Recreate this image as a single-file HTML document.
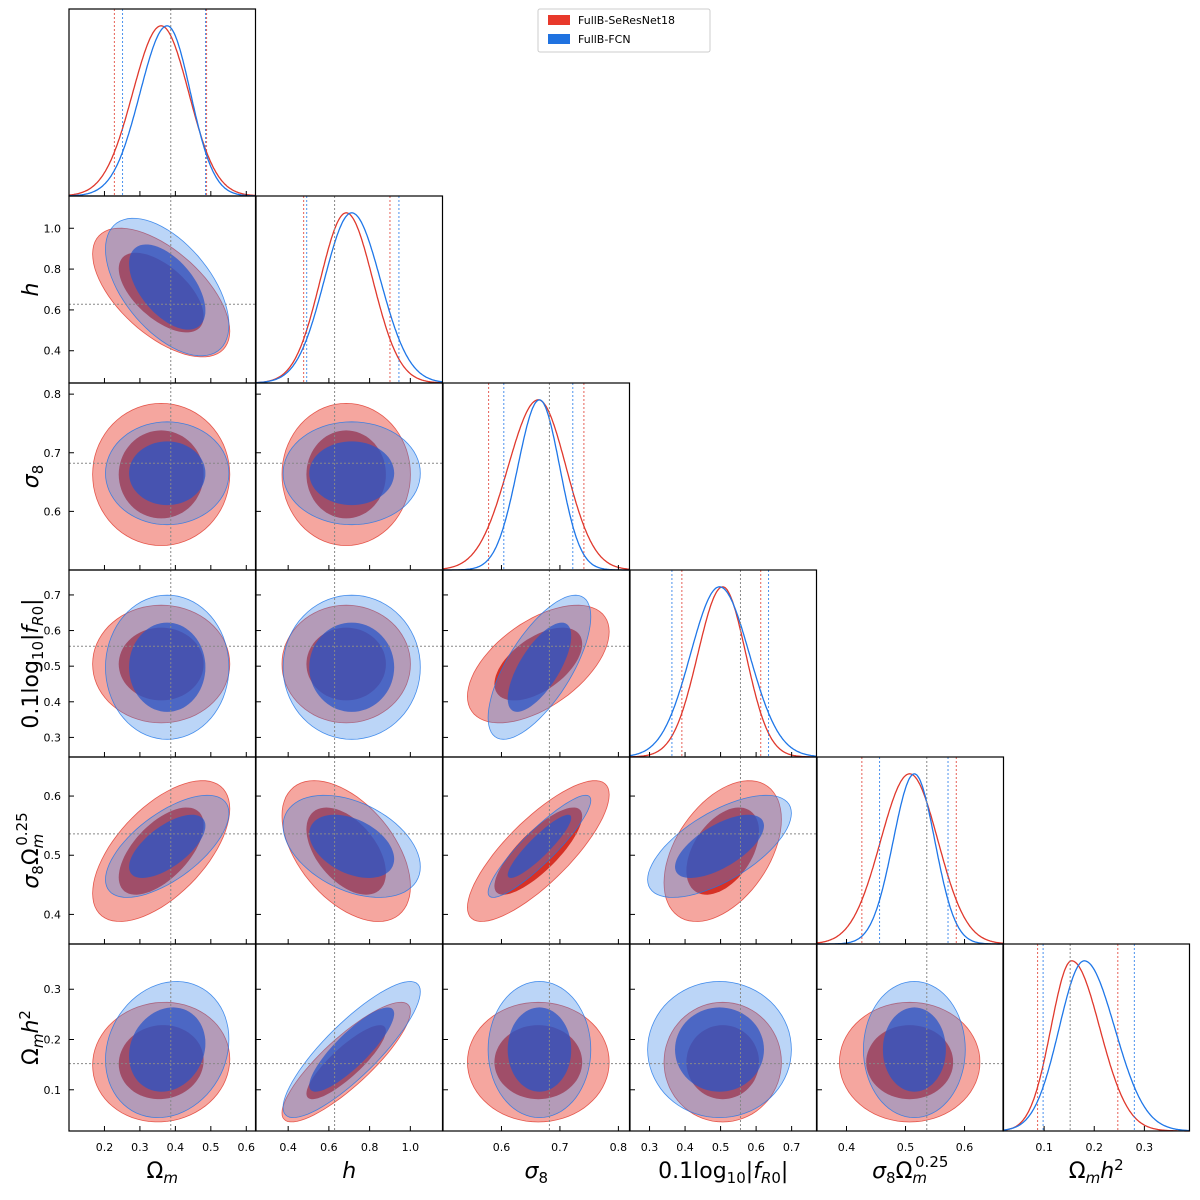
<!DOCTYPE html>
<html><head><meta charset="utf-8"><style>
body{margin:0;background:#fff}
svg{display:block;font-family:"DejaVu Sans","Liberation Sans",sans-serif}
</style></head><body>
<svg id="c" width="1200" height="1200" viewBox="0 0 1200 1200" xmlns="http://www.w3.org/2000/svg">
<g>
<rect x="538" y="9" width="172" height="43" fill="#fff" stroke="#ccc" rx="2"/>
<rect x="548" y="15" width="22" height="10" fill="#e8392b"/>
<text x="578" y="24" font-size="11">FullB-SeResNet18</text>
<rect x="548" y="34" width="22" height="10" fill="#1f72e0"/>
<text x="578" y="43" font-size="11">FullB-FCN</text>
</g>
</svg>
<script>
const paramLo=[0.10,0.242,0.50,0.245,0.35,0.018];
const paramHi=[0.626,1.158,0.819,0.770,0.666,0.39];
const truth=[0.387,0.628,0.682,0.556,0.536,0.152];
const ticks=[[0.2,0.3,0.4,0.5,0.6],[0.4,0.6,0.8,1.0],[0.6,0.7,0.8],[0.3,0.4,0.5,0.6,0.7],[0.4,0.5,0.6],[0.1,0.2,0.3]];
const tickLabels=[["0.2","0.3","0.4","0.5","0.6"],["0.4","0.6","0.8","1.0"],["0.6","0.7","0.8"],["0.3","0.4","0.5","0.6","0.7"],["0.4","0.5","0.6"],["0.1","0.2","0.3"]];
const redPeak=[0.36,0.685,0.663,0.506,0.507,0.155];
const redLo=[0.228,0.476,0.578,0.391,0.426,0.087];
const redHi=[0.488,0.90,0.741,0.613,0.586,0.247];
const bluePeak=[0.377,0.712,0.665,0.497,0.515,0.18];
const blueLo=[0.251,0.491,0.604,0.363,0.456,0.098];
const blueHi=[0.485,0.944,0.722,0.635,0.572,0.28];
// pairs (row,col)
const pairs=[[1,0],[2,0],[2,1],[3,0],[3,1],[3,2],[4,0],[4,1],[4,2],[4,3],[5,0],[5,1],[5,2],[5,3],[5,4]];
const redRho=[-0.6,0,0,0,0,0.55,0.6,-0.5,0.8,0.45,0.05,0.85,0,0,0];
const blueRho=[-0.55,0,0,0,0,0.7,0.65,-0.4,0.9,0.65,0.15,0.85,0,0,0];

const NS='http://www.w3.org/2000/svg';
const svg=document.getElementById('c');
const colL=[69,256,443,630,817,1003], rowT=[9,196,383,570,757,944], W=186.5, H=187;
function sx(p,v){return colL[p]+(v-paramLo[p])/(paramHi[p]-paramLo[p])*W;}
function sy(p,v){return rowT[p]+H-(v-paramLo[p])/(paramHi[p]-paramLo[p])*H;}
function mk(tag,attrs,parent){const e=document.createElementNS(NS,tag);for(const k in attrs)e.setAttribute(k,attrs[k]);(parent||svg).appendChild(e);return e;}
const series=[{peak:redPeak,lo:redLo,hi:redHi,rho:redRho,line:'#e0392d',fill:'#e8392b',inner:'#d42a20',name:'seresnet'},
{peak:bluePeak,lo:blueLo,hi:blueHi,rho:blueRho,line:'#1f77e8',fill:'#3b86e8',inner:'#2a55c8',name:'fcn'}];
const sdOf=(s,p)=>((s.hi[p]-s.lo[p])/2)/1.645;
const names=['omega-m','h','sigma8','fr0','s8om','omh2'];

// 2D panels
pairs.forEach(([r,c],k)=>{
  const g=mk('g',{});
  
  
  const cid='clip'+k;
  const cp=mk('clipPath',{id:cid},g);mk('rect',{x:colL[c],y:rowT[r],width:W,height:H},cp);
  const gg=mk('g',{'clip-path':'url(#'+cid+')'},g);
  const layers=[];
  series.forEach(s=>{
    const mx=s.peak[c], my=s.peak[r], ax=sdOf(s,c), ay=sdOf(s,r), rho=s.rho[k];
    [2.448,1.515].forEach((rad,li)=>{
      let d='';
      for(let t=0;t<=72;t++){const a=t/72*2*Math.PI;
        const vx=mx+rad*ax*Math.cos(a), vy=my+rad*ay*(rho*Math.cos(a)+Math.sqrt(1-rho*rho)*Math.sin(a));
        d+=(t?'L':'M')+sx(c,vx).toFixed(1)+','+sy(r,vy).toFixed(1);}
      d+='Z';
      const isBlue=s.name==='fcn';
      const e=mk('path',{d:d,fill:li?s.inner:s.fill,'fill-opacity':li?(isBlue?0.75:0.95):(isBlue?0.35:0.45),stroke:li?'none':s.line,'stroke-width':0.8,'stroke-opacity':0.8},gg);
      
      
    });
  });
  const v=mk('line',{x1:sx(c,truth[c]),x2:sx(c,truth[c]),y1:rowT[r],y2:rowT[r]+H,stroke:'#888','stroke-width':1,'stroke-dasharray':'2,2'},gg);
  
  
  const hl=mk('line',{x1:colL[c],x2:colL[c]+W,y1:sy(r,truth[r]),y2:sy(r,truth[r]),stroke:'#888','stroke-width':1,'stroke-dasharray':'2,2'},gg);
  
  
});

// 1D panels
for(let p=0;p<6;p++){
  const g=mk('g',{});
  
  
  const base=rowT[p]+H, top=H*0.91;
  series.forEach(s=>{
    const sl=(s.peak[p]-s.lo[p])/1.645, sr=(s.hi[p]-s.peak[p])/1.645;
    let d='';
    for(let t=0;t<=200;t++){const v=paramLo[p]+(paramHi[p]-paramLo[p])*t/200;
      const sd=v<s.peak[p]?sl:sr; const z=(v-s.peak[p])/sd;
      d+=(t?'L':'M')+sx(p,v).toFixed(1)+','+(base-top*Math.exp(-0.5*z*z)).toFixed(1);}
    const e=mk('path',{d:d,fill:'none',stroke:s.line,'stroke-width':1.3},g);
    
    
    [s.lo[p],s.hi[p]].forEach(v=>{
      const l=mk('line',{x1:sx(p,v),x2:sx(p,v),y1:rowT[p],y2:base,stroke:s.line,'stroke-width':1,'stroke-dasharray':'2,2','stroke-opacity':0.8},g);
      
      
    });
  });
  const tl=mk('line',{x1:sx(p,truth[p]),x2:sx(p,truth[p]),y1:rowT[p],y2:base,stroke:'#888','stroke-width':1,'stroke-dasharray':'2,2'},g);
  
  
}

// frames & ticks
for(let r=0;r<6;r++)for(let c=0;c<=r;c++){
  const f=mk('rect',{x:colL[c],y:rowT[r],width:W,height:H,fill:'none',stroke:'#000','stroke-width':1.2});
  
  
  const b=rowT[r]+H;
  ticks[c].forEach((v,i)=>{const x=sx(c,v);mk('line',{x1:x,x2:x,y1:b,y2:b-5,stroke:'#000','stroke-width':1});
    if(r===5){const t=mk('text',{x:x,y:b+20,'font-size':11,'text-anchor':'middle'});t.textContent=tickLabels[c][i];
      }});
  if(r!==c){ticks[r].forEach((v,i)=>{const y=sy(r,v);mk('line',{x1:colL[c],x2:colL[c]+5,y1:y,y2:y,stroke:'#000','stroke-width':1});
    if(c===0){const t=mk('text',{x:colL[0]-8,y:y+4,'font-size':11,'text-anchor':'end'});t.textContent=tickLabels[r][i];
      }});}
}
// axis titles
const titles=['Ω<tspan font-style="italic" font-size="15" dy="5">m</tspan>',
'<tspan font-style="italic">h</tspan>',
'<tspan font-style="italic">σ</tspan><tspan font-size="15" dy="5">8</tspan>',
'0.1log<tspan font-size="15" dy="5">10</tspan><tspan dy="-5">|</tspan><tspan font-style="italic">f</tspan><tspan font-style="italic" font-size="15" dy="5">R</tspan><tspan font-size="15">0</tspan><tspan dy="-5">|</tspan>',
'<tspan font-style="italic">σ</tspan><tspan font-size="15" dy="5">8</tspan><tspan dy="-5">Ω</tspan><tspan font-style="italic" font-size="15" dy="5">m</tspan><tspan font-size="15" dx="-12" dy="-16">0.25</tspan>',
'Ω<tspan font-style="italic" font-size="15" dy="5">m</tspan><tspan font-style="italic" dy="-5">h</tspan><tspan font-size="15" dy="-8">2</tspan>'];
for(let p=0;p<6;p++){
  const t=mk('text',{x:colL[p]+W/2,y:1178,'font-size':22,'text-anchor':'middle'});t.innerHTML=titles[p];
  
  if(p>0){const cy=rowT[p]+H/2;const u=mk('text',{x:0,y:0,'font-size':22,'text-anchor':'middle',transform:'translate(38,'+cy+') rotate(-90)'});u.innerHTML=titles[p];
    }
}
</script>
</body></html>
